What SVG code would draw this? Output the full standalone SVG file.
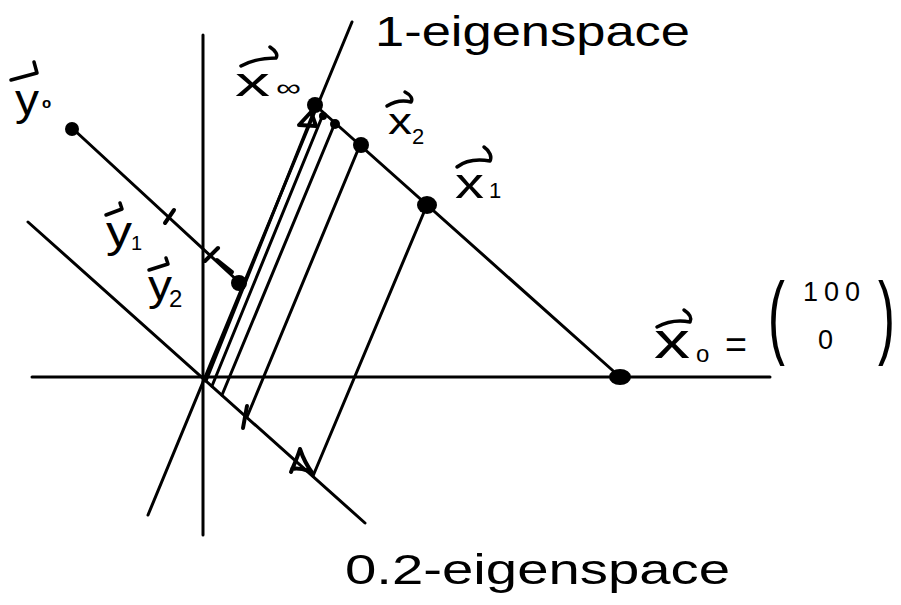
<svg xmlns="http://www.w3.org/2000/svg" width="901" height="605" viewBox="0 0 901 605">
<style>
  .ln{stroke:#000;stroke-width:3;fill:none;stroke-linecap:round}
  .sc{stroke:#000;stroke-width:4;fill:none;stroke-linecap:round;stroke-linejoin:round}
  .va{stroke:#000;stroke-width:3.5;fill:none;stroke-linecap:round;stroke-linejoin:round}
  .dot{fill:#000}
  .t{font-family:"Liberation Sans",Arial,sans-serif;fill:#000}
</style>
<rect width="901" height="605" fill="#fff"/>
<g id="connectors">
  <line class="ln" x1="32" y1="377" x2="770" y2="377"/>
  <line class="ln" x1="203" y1="35" x2="203" y2="535"/>
  <line class="ln" x1="148" y1="515" x2="352" y2="22"/>
  <line class="ln" x1="28" y1="222" x2="365" y2="523"/>
  <line class="ln" x1="315" y1="105" x2="620" y2="377"/>
  <line class="ln" x1="72" y1="128" x2="240" y2="283"/>
  <line class="ln" x1="427" y1="205" x2="313" y2="476"/>
  <line class="ln" x1="360" y1="145" x2="247" y2="417"/>
  <line class="ln" x1="335" y1="123" x2="222" y2="395"/>
  <line class="ln" x1="322" y1="117" x2="212" y2="386"/>
  <line class="ln" x1="312" y1="116" x2="206" y2="381"/>
  <path class="sc" d="M299,125 L311,112 L316,126 Z"/>
  <path class="sc" d="M291,472 C294,465 298,456 300,449 C303,458 307,466 313,474 M292,469 C297,468 303,469 309,471"/>
  <path class="sc" d="M247,406 L243,428"/>
  <path class="sc" d="M165,223 L174,210"/>
  <path class="sc" d="M205,261 L218,248"/>
  <path class="sc" d="M217,260 L232,272"/>
</g>
<g id="x_inf">
  <circle class="dot" cx="315" cy="105" r="8"/>
  <circle class="dot" cx="323" cy="116" r="4"/>
  <circle class="dot" cx="335" cy="124" r="5"/>
  <path class="va" d="M241,66 C252,60 264,58 276,58 M270,47 C276,51 278,55 276,58"/>
  <text class="t" x="235" y="96" font-size="40" textLength="35" lengthAdjust="spacingAndGlyphs">x</text>
  <text class="t" x="276" y="96" font-size="24" textLength="25" lengthAdjust="spacingAndGlyphs">∞</text>
</g>
<g id="x2">
  <circle class="dot" cx="361" cy="145" r="8"/>
  <path class="va" d="M387,106 C395,101 403,100 411,102 M405,92 C411,95 413,99 411,102"/>
  <text class="t" x="388" y="134" font-size="36" textLength="24" lengthAdjust="spacingAndGlyphs">x</text>
  <text class="t" x="412" y="144" font-size="22">2</text>
</g>
<g id="x1">
  <ellipse class="dot" cx="427" cy="205" rx="10" ry="9"/>
  <path class="va" d="M457,167 C466,160 478,159 490,161 M484,147 C490,151 492,157 490,161"/>
  <text class="t" x="455" y="198" font-size="42" textLength="29" lengthAdjust="spacingAndGlyphs">x</text>
  <text class="t" x="489" y="198" font-size="22">1</text>
</g>
<g id="x0">
  <ellipse class="dot" cx="620" cy="377" rx="11" ry="8"/>
  <path class="va" d="M657,327 C668,321 680,320 690,322 M684,310 C690,314 692,318 690,322"/>
  <text class="t" x="654" y="358" font-size="50" textLength="36" lengthAdjust="spacingAndGlyphs">x</text>
  <text class="t" x="696" y="362" font-size="24">o</text>
  <text class="t" x="725" y="358" font-size="38" textLength="22" lengthAdjust="spacingAndGlyphs">=</text>
  <text class="t" font-size="92" transform="translate(768,347) scale(0.55,1)">(</text>
  <text class="t" x="803" y="301" font-size="27" letter-spacing="6">100</text>
  <text class="t" x="818" y="349" font-size="27">0</text>
  <text class="t" font-size="92" transform="translate(878,347) scale(0.55,1)">)</text>
</g>
<g id="y0">
  <circle class="dot" cx="72" cy="129" r="7"/>
  <path class="va" d="M11,80 L37,73 L34,62"/>
  <text class="t" x="15" y="115" font-size="44" textLength="24" lengthAdjust="spacingAndGlyphs">y</text>
  <text class="t" x="42" y="108" font-size="15" font-weight="bold">o</text>
</g>
<g id="y1">
  <path class="va" d="M106,215 L122,209 L120,203"/>
  <text class="t" x="106" y="247" font-size="44" textLength="26" lengthAdjust="spacingAndGlyphs">y</text>
  <text class="t" x="131" y="250" font-size="20">1</text>
</g>
<g id="y2">
  <circle class="dot" cx="239" cy="283" r="8"/>
  <path class="va" d="M149,270 L168,264 L166,258"/>
  <text class="t" x="148" y="300" font-size="42" textLength="24" lengthAdjust="spacingAndGlyphs">y</text>
  <text class="t" x="169" y="307" font-size="24">2</text>
</g>
<g id="labels">
  <text class="t" x="375" y="46" font-size="42" textLength="315" lengthAdjust="spacingAndGlyphs">1-eigenspace</text>
  <text class="t" x="345" y="584" font-size="42" textLength="385" lengthAdjust="spacingAndGlyphs">0.2-eigenspace</text>
</g>
</svg>
